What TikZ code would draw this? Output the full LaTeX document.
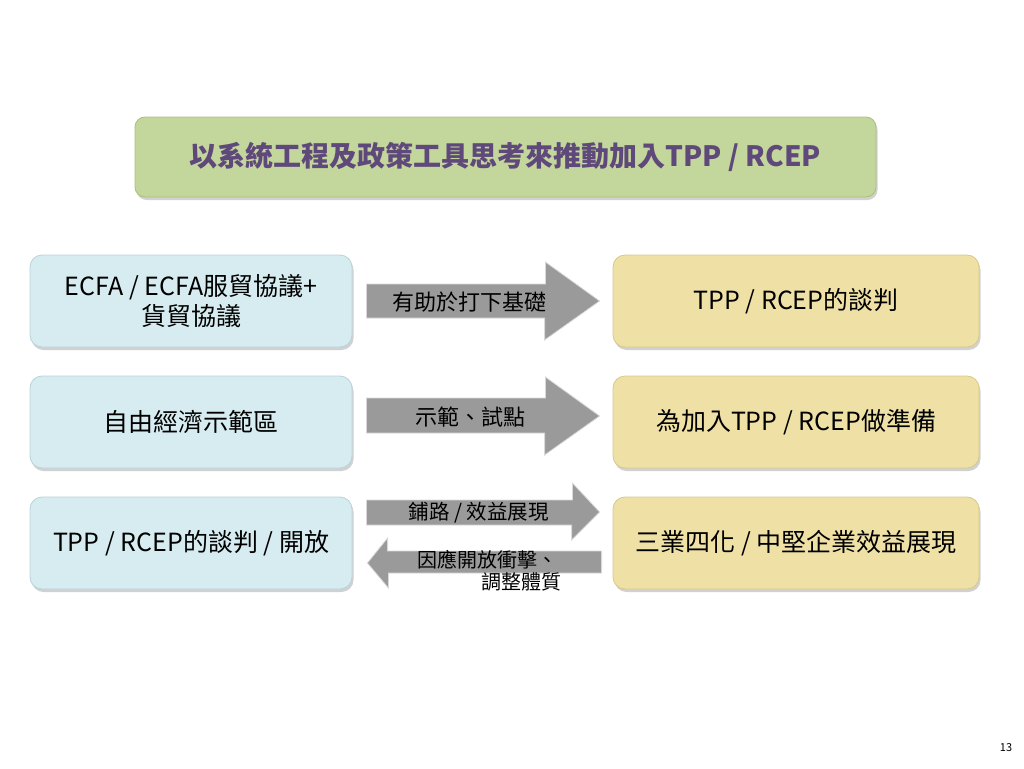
\documentclass[tikz,border=0pt]{standalone}
\usepackage{fontspec}
\setmainfont{Noto Sans CJK TC}
\usepackage{xcolor}
\definecolor{titleGreen}{HTML}{C3D69B}
\definecolor{titleEdge}{HTML}{A9C07A}
\definecolor{titlePurple}{HTML}{5F497A}
\definecolor{boxBlue}{HTML}{D6ECF0}
\definecolor{boxBlueEdge}{HTML}{B7D3DA}
\definecolor{boxSand}{HTML}{EFE1A6}
\definecolor{boxSandEdge}{HTML}{D8C888}
\definecolor{arrowGray}{HTML}{9A9A9A}
\definecolor{arrowEdge}{HTML}{D9D9D9}
\usetikzlibrary{positioning,calc,shadows}

\begin{document}
\begin{tikzpicture}[
  x=1pt, y=-1pt,
  boxshadow/.style={drop shadow={shadow xshift=1.5pt, shadow yshift=-3pt, opacity=0.3, fill=black!60}},
  titlebox/.style={draw=titleEdge, line width=0.8pt, fill=titleGreen, rounded corners=10pt, minimum width=741pt, minimum height=80pt, boxshadow, text=titlePurple, font=\fontsize{28}{32}\selectfont\bfseries},
  leftbox/.style={draw=boxBlueEdge, line width=0.8pt, fill=boxBlue, rounded corners=12pt, minimum width=322pt, minimum height=92pt, align=center, boxshadow, font=\fontsize{25}{30}\selectfont},
  rightbox/.style={draw=boxSandEdge, line width=0.8pt, fill=boxSand, rounded corners=12pt, minimum width=366pt, minimum height=92pt, align=center, boxshadow, font=\fontsize{25}{30}\selectfont},
  blockarrow/.style={fill=arrowGray, draw=arrowEdge, line width=0.8pt, line join=miter},
  arrowtext/.style={font=\fontsize{22}{24}\selectfont, inner sep=0pt}
]
\useasboundingbox (0,0) rectangle (1024,768);

% Heading
\node[titlebox] (title) at (505.5,157) {以系統工程及政策工具思考來推動加入TPP / RCEP};

% Left column
\node[leftbox] (ecfa) at (191,301) {ECFA / ECFA服貿協議+\\貨貿協議};
\node[leftbox] (zone) at (191,422) {自由經濟示範區};
\node[leftbox] (open) at (191,543) {TPP / RCEP的談判 / 開放};

% Right column
\node[rightbox] (talks) at (796,301) {TPP / RCEP的談判};
\node[rightbox] (ready) at (796,422) {為加入TPP / RCEP做準備};
\node[rightbox] (firms) at (796,543) {三業四化 / 中堅企業效益展現};

% Row 1 arrow
\draw[blockarrow] ($(ecfa.east)+(14,-17)$) -- ++(179,0) -- ++(0,-22) -- ($(talks.west)+(-13,0)$)
  -- ($(talks.west)+(-68,39)$) -- ++(0,-22) -- ($(ecfa.east)+(14,17)$) -- cycle;
\node[arrowtext, right] (base) at ($(ecfa.east)+(40,1)$) {有助於打下基礎};

% Row 2 arrow
\draw[blockarrow] ($(zone.east)+(14,-24)$) -- ++(179,0) -- ++(0,-21) -- ($(ready.west)+(-13,-6)$)
  -- ($(ready.west)+(-68,33)$) -- ++(0,-22) -- ($(zone.east)+(14,11)$) -- cycle;
\node[arrowtext, right] (pilot) at ($(zone.east)+(63,-5)$) {示範、試點};

% Row 3 arrows (both ways)
\draw[blockarrow] ($(open.east)+(14,-43)$) -- ++(206,0) -- ++(0,-17) -- ($(firms.west)+(-13,-31)$)
  -- ($(firms.west)+(-41,-3)$) -- ++(0,-15) -- ($(open.east)+(14,-18)$) -- cycle;
\node[arrowtext, right, font=\fontsize{20.5}{24}\selectfont] (pave) at ($(open.east)+(56,-30)$) {鋪路 / 效益展現};
\draw[blockarrow] ($(firms.west)+(-11,8)$) -- ++(-214,0) -- ++(0,-13) -- ($(open.east)+(15,20)$)
  -- ($(open.east)+(36,45)$) -- ++(0,-15) -- ($(firms.west)+(-11,30)$) -- cycle;
\node[arrowtext, align=left, anchor=north west, font=\fontsize{20}{22}\selectfont] (adjust) at ($(firms.west)+(-195,7)$) {因應開放衝擊、\\\hspace*{64pt}調整體質};

% Page number
\node[font=\fontsize{11}{12}\selectfont] (page) at (1006,748) {13};
\end{tikzpicture}
\end{document}
